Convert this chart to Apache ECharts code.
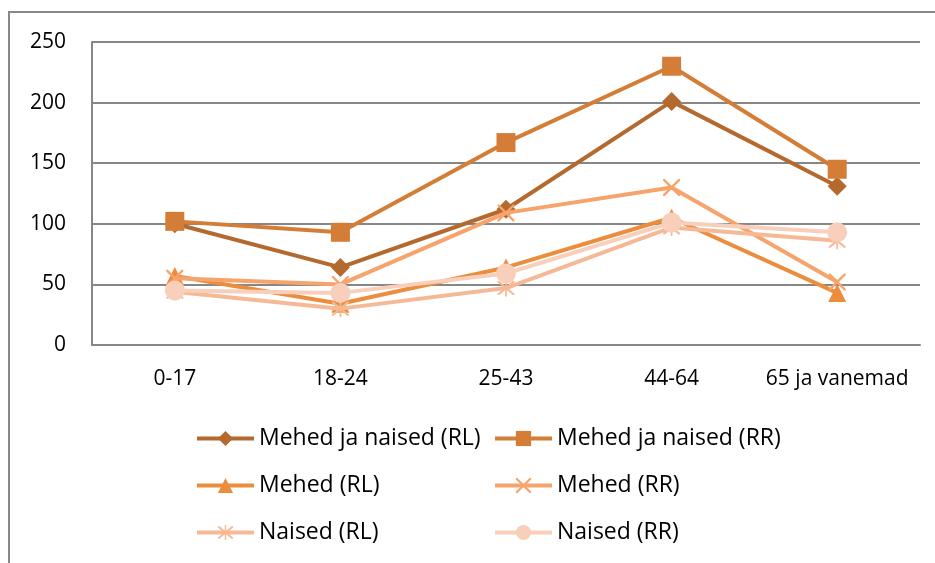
<!DOCTYPE html>
<html>
<head>
<meta charset="utf-8">
<script src="https://cdn.jsdelivr.net/npm/echarts@6/dist/echarts.min.js"></script>
<style>
html,body{margin:0;padding:0;background:#fff;}
#main{width:935px;height:563px;}
</style>
</head>
<body>
<div id="main"></div>
<script>
const categories = ['0-17', '18-24', '25-43', '44-64', '65 ja vanemad'];
const seriesNames = ['Mehed ja naised (RL)', 'Mehed ja naised (RR)', 'Mehed (RL)', 'Mehed (RR)', 'Naised (RL)', 'Naised (RR)'];
const mjnRL = [100, 64, 112, 201, 131];
const mjnRR = [102, 93, 167, 230, 145];
const mehedRL = [57, 34, 64, 105, 43];
const mehedRR = [55, 50, 109, 130, 52];
const naisedRL = [44, 30, 47, 97, 86];
const naisedRR = [45, 43, 59, 101, 93];
const yTicks = [0, 50, 100, 150, 200, 250];

const colors = ['#B4692E', '#D47D36', '#EC8D3E', '#F6A46C', '#F5B995', '#F8CFBA'];
const xPath = 'path://M0,0 L2,0 L10,8 L18,0 L20,0 L20,2 L12,10 L20,18 L20,20 L18,20 L10,12 L2,20 L0,20 L0,18 L8,10 L0,2 Z';
const starPath = 'path://M0,0 L2,0 L10,8 L18,0 L20,0 L20,2 L12,10 L20,18 L20,20 L18,20 L10,12 L2,20 L0,20 L0,18 L8,10 L0,2 Z M9,-2 L11,-2 L11,22 L9,22 Z';
const symbols = ['diamond', 'rect', 'triangle', xPath, starPath, 'circle'];
const symbolSizes = [19, 19, 18, 17, 17, 20];
const dataSets = [mjnRL, mjnRR, mehedRL, mehedRR, naisedRL, naisedRR];

const FONT = 'Open Sans';

const chart = echarts.init(document.getElementById('main'), null, {renderer: 'canvas'});
const series = seriesNames.map((name, i) => ({
  name: name,
  type: 'line',
  data: dataSets[i],
  symbol: symbols[i],
  symbolSize: symbolSizes[i],
  showAllSymbol: true,
  lineStyle: {color: colors[i], width: 4},
  itemStyle: {color: colors[i]},
  emphasis: {disabled: true},
  animation: false,
  z: 2 + i
}));

const legendCommon = {
  orient: 'vertical',
  top: 422,
  itemGap: 24,
  itemWidth: 57,
  itemHeight: 19,
  lineStyle: {width: 4},
  textStyle: {fontFamily: FONT, fontSize: 23, color: '#000'},
  selectedMode: false
};

chart.setOption({
  animation: false,
  backgroundColor: '#fff',
  color: colors,
  graphic: [{
    type: 'rect',
    shape: {x: 9, y: 12, width: 1000, height: 1000},
    style: {fill: 'none', stroke: '#878787', lineWidth: 2},
    silent: true,
    z: -10
  }],
  grid: {left: 92, right: 15, top: 42, bottom: 218, containLabel: false},
  legend: [
    Object.assign({}, legendCommon, {left: 190, data: [seriesNames[0], seriesNames[2], seriesNames[4]]}),
    Object.assign({}, legendCommon, {left: 488, data: [seriesNames[1], seriesNames[3], seriesNames[5]]})
  ],
  xAxis: {
    type: 'category',
    data: categories,
    boundaryGap: true,
    axisLine: {show: true, lineStyle: {color: '#878787', width: 2}},
    axisTick: {show: false},
    axisLabel: {fontFamily: FONT, fontSize: 21, color: '#000', margin: 24, interval: 0}
  },
  yAxis: {
    type: 'value',
    min: yTicks[0],
    max: yTicks[yTicks.length - 1],
    interval: 50,
    axisLine: {show: true, lineStyle: {color: '#878787', width: 2}},
    axisTick: {show: false},
    splitLine: {show: true, lineStyle: {color: '#878787', width: 2}},
    axisLabel: {fontFamily: FONT, fontSize: 21, color: '#000', margin: 26}
  },
  series: series
});
</script>
</body>
</html>
